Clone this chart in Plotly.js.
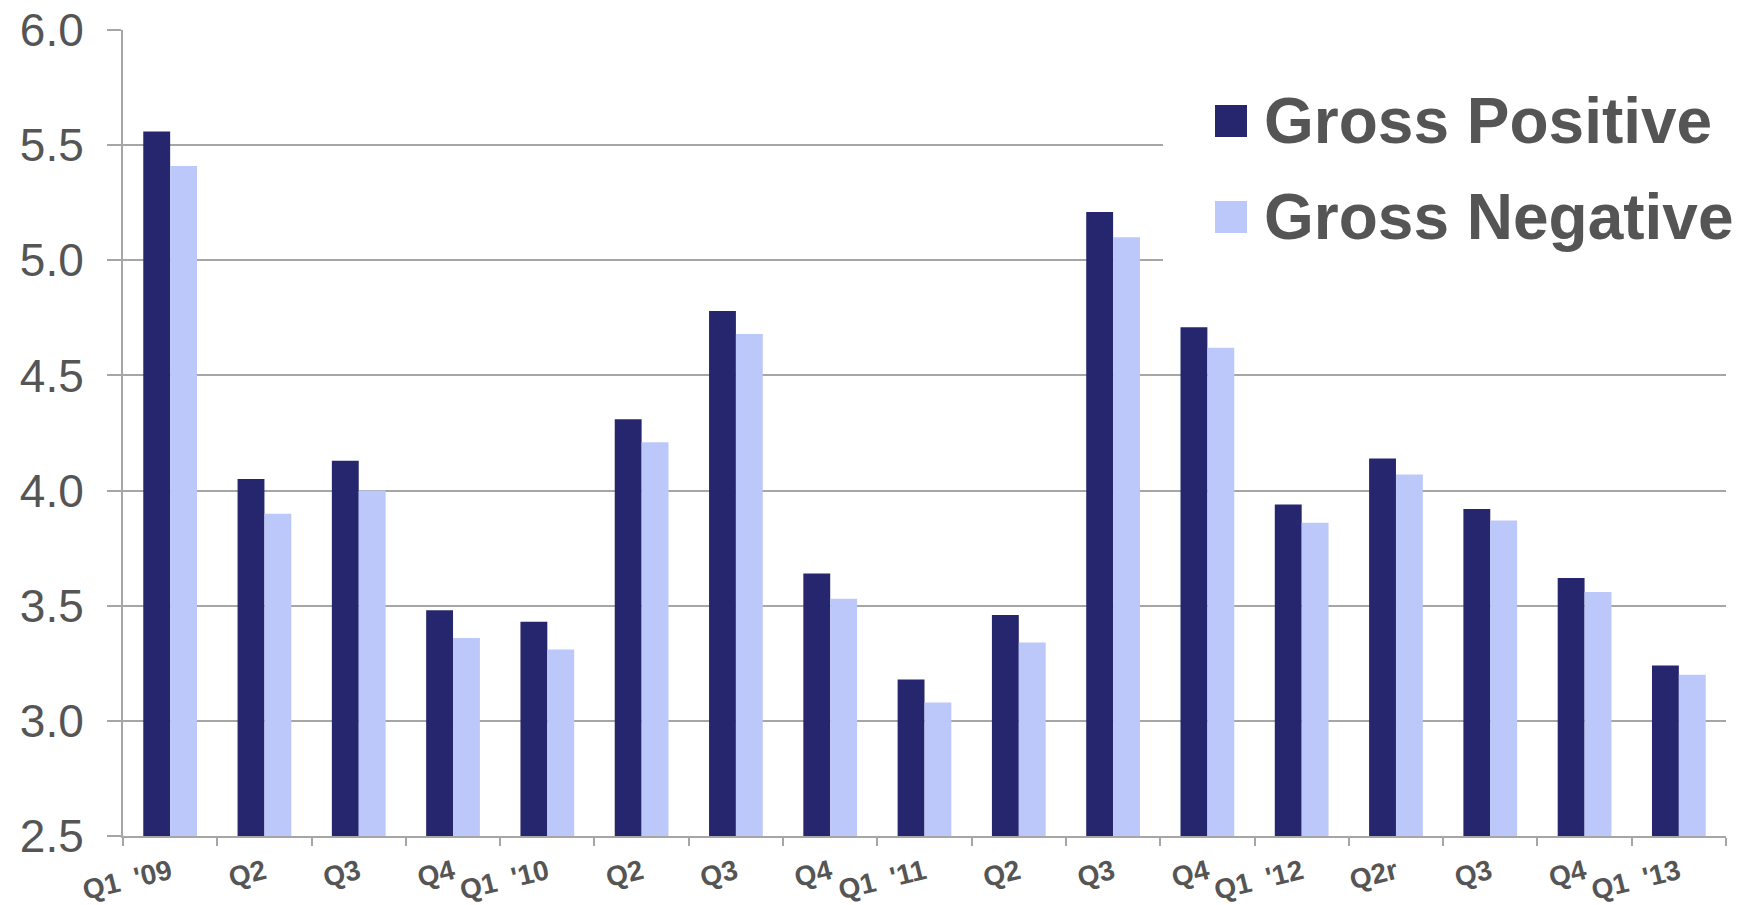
<!DOCTYPE html>
<html>
<head>
<meta charset="utf-8">
<script src="https://cdn.plot.ly/plotly-3.0.1.min.js"></script>
<style>html,body{margin:0;padding:0;background:#fff;}#chart{width:1748px;height:905px;}</style>
</head>
<body>
<div id="chart"></div>
<script>
var categories = ["Q1\u00a0\u00a0'09","Q2","Q3","Q4","Q1\u00a0\u00a0'10","Q2","Q3","Q4","Q1\u00a0\u00a0'11","Q2","Q3","Q4","Q1\u00a0\u00a0'12","Q2r","Q3","Q4","Q1\u00a0\u00a0'13"];
var grossPositive = [5.56,4.05,4.13,3.48,3.43,4.31,4.78,3.64,3.18,3.46,5.21,4.71,3.94,4.14,3.92,3.62,3.24];
var grossNegative = [5.41,3.90,4.00,3.36,3.31,4.21,4.68,3.53,3.08,3.34,5.10,4.62,3.86,4.07,3.87,3.56,3.20];
var seriesNames = ["Gross Positive","Gross Negative"];
var seriesColors = ["#26266e","#bcc8fa"];
var yTicks = [2.5,3.0,3.5,4.0,4.5,5.0,5.5,6.0];

var W = 1748, H = 905;
var L = 123, R = 1726, T = 30, B = 836;
function px(x){ return (x - L) / (R - L); }
function py(y){ return (B - y) / (B - T); }

var idx = categories.map(function(_, i){ return i; });
var textColor = "#555555";
var gridColor = "#a6a6a6";

var traces = [
  {type:"bar", x: idx, y: grossPositive, name: seriesNames[0], marker:{color: seriesColors[0], line:{width:0}}, showlegend:false, hoverinfo:"y"},
  {type:"bar", x: idx, y: grossNegative, name: seriesNames[1], marker:{color: seriesColors[1], line:{width:0}}, showlegend:false, hoverinfo:"y"}
];

var rowY = [121, 217];
var shapes = [
  {type:"rect", xref:"paper", yref:"paper", x0: px(1163), x1: px(1748), y0: py(75), y1: py(290), fillcolor:"#ffffff", line:{width:0}, layer:"above"}
];
var annotations = [];
seriesNames.forEach(function(n, i){
  shapes.push({type:"rect", xref:"paper", yref:"paper", x0: px(1215), x1: px(1247), y0: py(rowY[i]+16), y1: py(rowY[i]-16), fillcolor: seriesColors[i], line:{width:0}, layer:"above"});
  annotations.push({xref:"paper", yref:"paper", x: px(1262), y: py(rowY[i]), xanchor:"left", yanchor:"middle", showarrow:false, text: n, font:{family:"Liberation Sans, Arial, sans-serif", size:64, color:textColor, weight:"bold"}});
});

var layout = {
  width: W, height: H,
  margin: {l: L, r: W - R, t: T, b: H - B, pad: 0},
  paper_bgcolor: "#ffffff", plot_bgcolor: "#ffffff",
  barmode: "group", bargap: 0.43, bargroupgap: 0,
  showlegend: false,
  xaxis: {
    type: "linear", range: [-0.5, categories.length - 0.5],
    tickmode: "array", tickvals: idx, ticktext: categories,
    ticks: "", ticklen: 0, tickangle: -14,
    tickfont: {family: "Liberation Sans, Arial, sans-serif", size: 28, color: textColor, weight: "bold"},
    ticklabelstandoff: 7,
    showline: true, linecolor: gridColor, linewidth: 2,
    showgrid: false, zeroline: false,
    minor: {tickmode: "linear", tick0: -0.5, dtick: 1, ticks: "outside", ticklen: 8, tickcolor: gridColor, tickwidth: 2, showgrid: false},
    fixedrange: true
  },
  yaxis: {
    range: [2.5, 6.0005],
    tickmode: "array", tickvals: yTicks, ticktext: yTicks.map(function(v){ return v.toFixed(1); }),
    ticks: "outside", ticklen: 14, tickcolor: gridColor, tickwidth: 2,
    tickfont: {family: "Liberation Sans, Arial, sans-serif", size: 46, color: textColor},
    ticklabelstandoff: 14,
    showline: true, linecolor: gridColor, linewidth: 2,
    showgrid: true, gridcolor: gridColor, gridwidth: 2,
    zeroline: false, fixedrange: true
  },
  shapes: shapes,
  annotations: annotations
};

Plotly.newPlot("chart", traces, layout, {displayModeBar: false, staticPlot: true});
</script>
</body>
</html>
